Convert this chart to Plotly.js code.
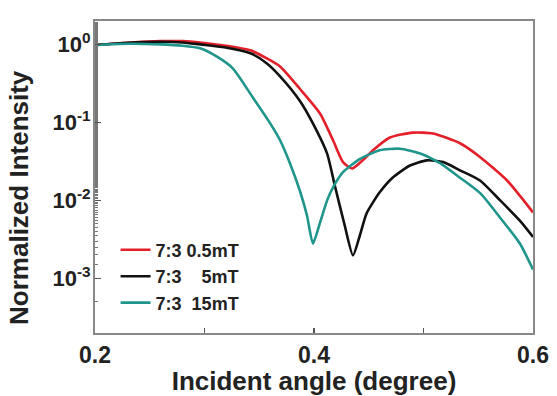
<!DOCTYPE html>
<html>
<head>
<meta charset="utf-8">
<script src="https://cdn.plot.ly/plotly-3.0.1.min.js"></script>
<style>html,body{margin:0;padding:0;background:#fff;}#chart{width:557px;height:396px;}</style>
</head>
<body>
<div id="chart"></div>
<script>
// Series names
const seriesNames = ["7:3\u00a00.5mT", "7:3\u00a0\u00a0\u00a0\u00a05mT", "7:3\u00a0\u00a015mT"];

// 7:3 0.5mT
const redX = [0.20, 0.23, 0.26, 0.28, 0.296, 0.318, 0.342, 0.357, 0.369, 0.387, 0.4055, 0.4174, 0.4265, 0.4347, 0.4447, 0.4539, 0.4694, 0.490, 0.5087, 0.5333, 0.5516, 0.5763, 0.588, 0.60];
const redY = [0.98, 1.05, 1.10, 1.10, 1.06, 0.97, 0.84, 0.66, 0.52, 0.27, 0.13, 0.059, 0.031, 0.0257, 0.033, 0.044, 0.064, 0.074, 0.072, 0.054, 0.036, 0.018, 0.0115, 0.007];

// 7:3 5mT
const blackX = [0.20, 0.23, 0.26, 0.28, 0.296, 0.318, 0.342, 0.357, 0.369, 0.387, 0.399, 0.4119, 0.419, 0.428, 0.4356, 0.442, 0.448, 0.460, 0.472, 0.4877, 0.503, 0.518, 0.5333, 0.5516, 0.570, 0.588, 0.60];
const blackY = [0.98, 1.05, 1.08, 1.06, 1.0, 0.92, 0.77, 0.57, 0.39, 0.19, 0.097, 0.040, 0.0155, 0.0048, 0.00197, 0.0036, 0.0068, 0.0127, 0.0197, 0.028, 0.0326, 0.031, 0.0243, 0.018, 0.01, 0.0055, 0.0034];

// 7:3 15mT
const tealX = [0.20, 0.23, 0.26, 0.28, 0.296, 0.311, 0.326, 0.344, 0.360, 0.369, 0.378, 0.387, 0.3936, 0.399, 0.4055, 0.412, 0.4174, 0.4265, 0.442, 0.460, 0.4785, 0.497, 0.515, 0.533, 0.552, 0.570, 0.588, 0.60];
const tealY = [0.98, 1.02, 1.0, 0.96, 0.89, 0.70, 0.49, 0.21, 0.097, 0.059, 0.030, 0.0134, 0.0064, 0.0028, 0.0052, 0.01, 0.0147, 0.023, 0.034, 0.044, 0.046, 0.040, 0.030, 0.0197, 0.0123, 0.006, 0.0028, 0.0013];

// Tick labels
const xTickVals = [0.2, 0.4, 0.6];
const xTickText = ["0.2", "0.4", "0.6"];
const yTickVals = [1, 0.1, 0.01, 0.001];
const yTickText = ["10<sup>0</sup>", "10<sup>-1</sup>", "10<sup>-2</sup>", "10<sup>-3</sup>"];

// Axis titles
const xTitle = "Incident angle (degree)";
const yTitle = "Normalized Intensity";

const colors = ["#e3202a", "#111111", "#1f958b"];
const font = "Liberation Sans, Arial, sans-serif";

const traces = [
  {x: redX, y: redY, name: seriesNames[0]},
  {x: blackX, y: blackY, name: seriesNames[1]},
  {x: tealX, y: tealY, name: seriesNames[2]}
].map((t, i) => Object.assign(t, {
  type: "scatter", mode: "lines",
  line: {color: colors[i], width: 2.6, shape: "spline", smoothing: 0.6}
}));

const layout = {
  width: 557, height: 396,
  margin: {l: 95, r: 24, t: 21, b: 63},
  paper_bgcolor: "#fff", plot_bgcolor: "#fff",
  font: {family: font, color: "#222"},
  showlegend: true,
  legend: {
    x: 0.047, y: 0.325, xanchor: "left", yanchor: "top",
    bgcolor: "rgba(0,0,0,0)", borderwidth: 0,
    font: {family: font, size: 18, color: "#222", weight: "bold"},
    tracegroupgap: 0
  },
  xaxis: {
    range: [0.2, 0.6],
    tickvals: xTickVals, ticktext: xTickText,
    ticks: "inside", ticklen: 5, tickwidth: 1.5, tickcolor: "#555",
    minor: {dtick: 0.1, tick0: 0.2, ticks: "inside", ticklen: 5, tickwidth: 1.5, tickcolor: "#555", showgrid: false},
    showline: true, mirror: true, linecolor: "#888", linewidth: 2,
    showgrid: false, zeroline: false,
    tickfont: {family: font, size: 23, color: "#222", weight: "bold"},
    title: {text: xTitle, font: {family: font, size: 26, color: "#222", weight: "bold"}, standoff: 6}
  },
  yaxis: {
    type: "log", range: [-3.7, 0.3],
    tickvals: yTickVals, ticktext: yTickText,
    ticks: "inside", ticklen: 6, tickwidth: 1.5, tickcolor: "#555",
    ticklabelstandoff: -2,
    minor: {ticks: "inside", ticklen: 3, tickwidth: 1, tickcolor: "#777", showgrid: false},
    showline: true, mirror: true, linecolor: "#888", linewidth: 2,
    showgrid: false, zeroline: false,
    tickfont: {family: font, size: 22, color: "#222", weight: "bold"}
  },
  annotations: [{
    text: yTitle, textangle: -90,
    xref: "paper", yref: "paper", x: -0.172, y: 0.435,
    xanchor: "center", yanchor: "middle", showarrow: false,
    font: {family: font, size: 26, color: "#222", weight: "bold"}
  }]
};

Plotly.newPlot("chart", traces, layout, {staticPlot: true, displayModeBar: false});
</script>
</body>
</html>
